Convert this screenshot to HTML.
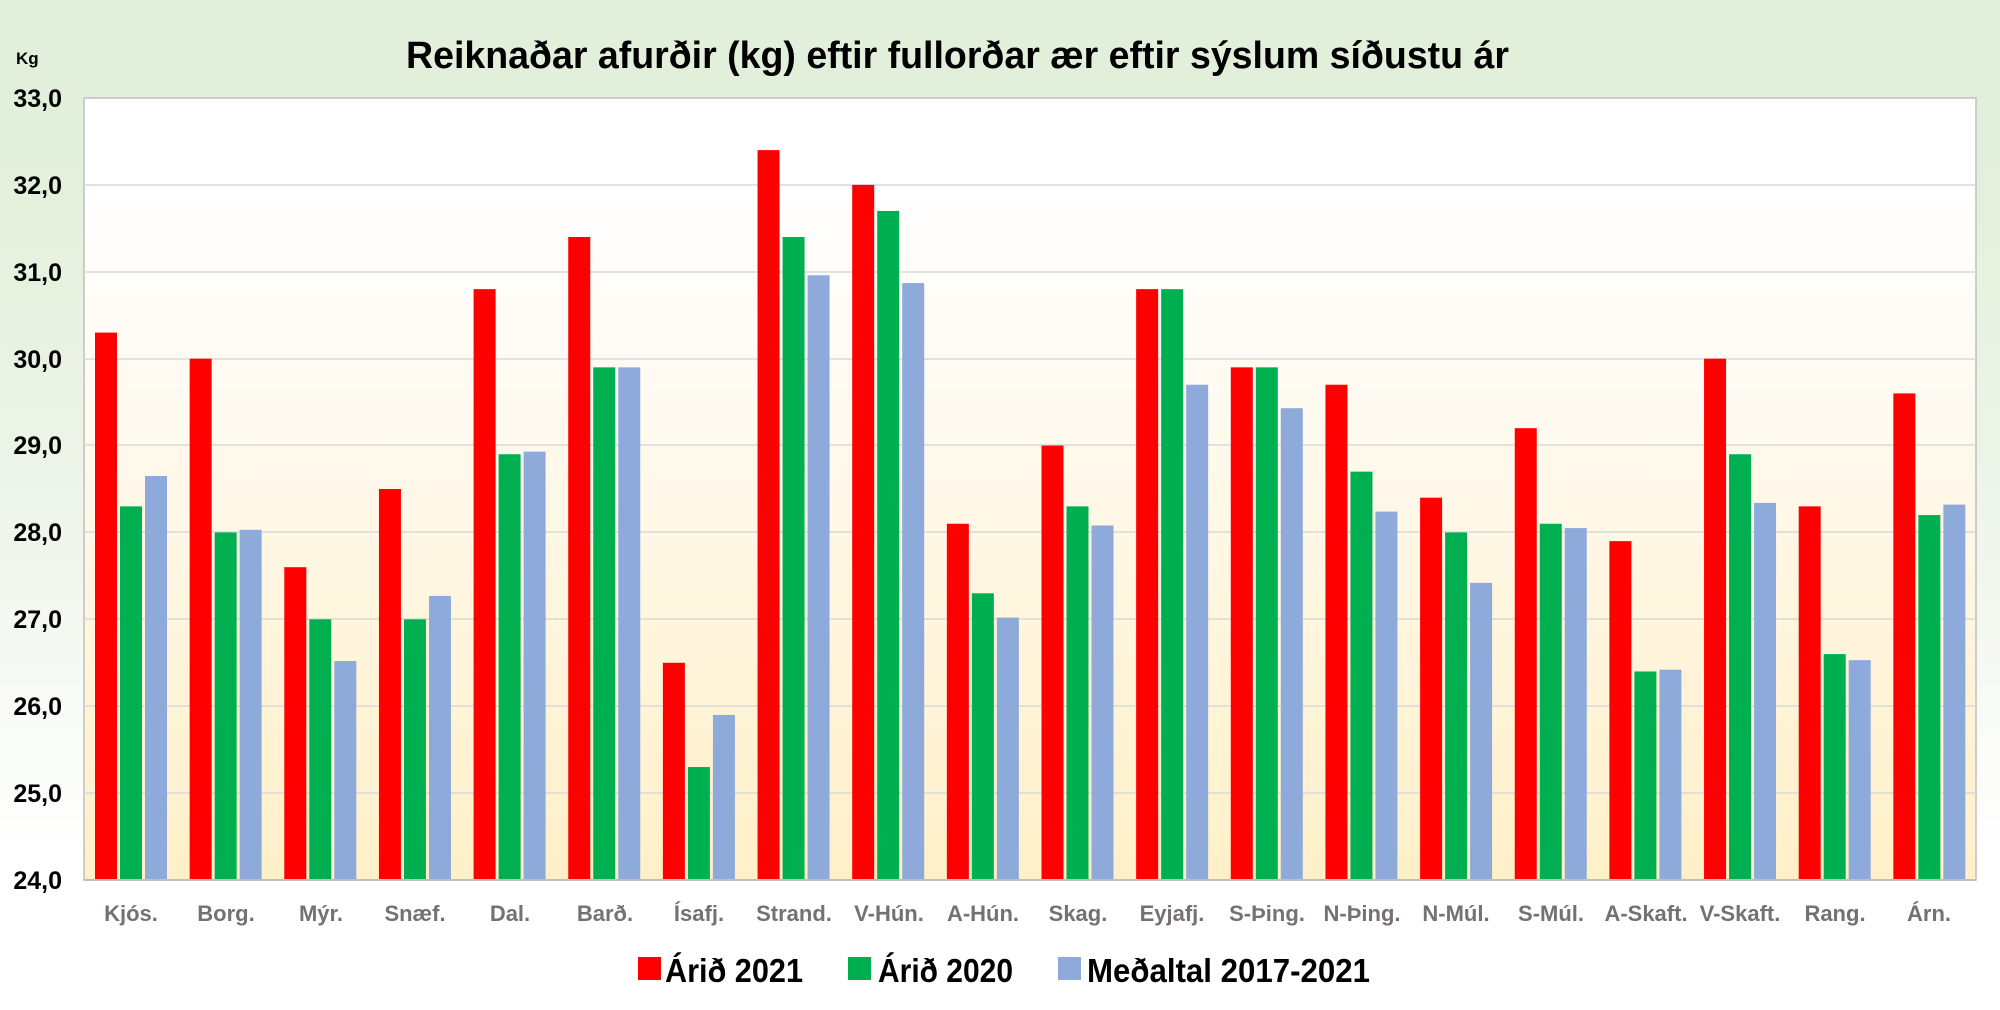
<!DOCTYPE html>
<html><head><meta charset="utf-8"><style>
html,body{margin:0;padding:0;background:#ffffff;}
svg{display:block;}
text{font-family:"Liberation Sans",sans-serif;font-weight:bold;}
</style></head><body>
<svg width="2000" height="1010" viewBox="0 0 2000 1010" xmlns="http://www.w3.org/2000/svg">
<defs>
<linearGradient id="bg" x1="0" y1="0" x2="0" y2="1">
<stop offset="0" stop-color="#ffffff"/>
<stop offset="0.11" stop-color="#ffffff"/>
<stop offset="0.4" stop-color="#fffaf0"/>
<stop offset="1" stop-color="#fff0c8"/>
</linearGradient>
<linearGradient id="outer" x1="0" y1="0" x2="0" y2="1">
<stop offset="0" stop-color="#e2efda"/>
<stop offset="0.15" stop-color="#e2efda"/>
<stop offset="0.5" stop-color="#eef5ea"/>
<stop offset="0.85" stop-color="#ffffff"/>
<stop offset="1" stop-color="#ffffff"/>
</linearGradient>
</defs>
<rect x="0" y="0" width="2000" height="1010" fill="url(#outer)"/>
<rect x="84" y="98" width="1892" height="782" fill="url(#bg)" stroke="#bfbfbf" stroke-width="1.5"/>
<g stroke="#d9d9d9" stroke-width="1.5">
<line x1="84" x2="1976" y1="185" y2="185"/>
<line x1="84" x2="1976" y1="272" y2="272"/>
<line x1="84" x2="1976" y1="359" y2="359"/>
<line x1="84" x2="1976" y1="445" y2="445"/>
<line x1="84" x2="1976" y1="532" y2="532"/>
<line x1="84" x2="1976" y1="619" y2="619"/>
<line x1="84" x2="1976" y1="706" y2="706"/>
<line x1="84" x2="1976" y1="793" y2="793"/>
</g>
<text x="406" y="68" font-size="38" fill="#000" textLength="1103" lengthAdjust="spacingAndGlyphs">Reiknaðar afurðir (kg) eftir fullorðar ær eftir sýslum síðustu ár</text>
<text x="16" y="64" font-size="17" fill="#000">Kg</text>
<g font-size="25" fill="#000" text-anchor="end">
<text x="62" y="107">33,0</text>
<text x="62" y="194">32,0</text>
<text x="62" y="281">31,0</text>
<text x="62" y="368">30,0</text>
<text x="62" y="454">29,0</text>
<text x="62" y="541">28,0</text>
<text x="62" y="628">27,0</text>
<text x="62" y="715">26,0</text>
<text x="62" y="802">25,0</text>
<text x="62" y="889">24,0</text>
</g>
<g transform="matrix(1,0,0,-86.89,0,2965.36)">
<g fill="#ff0000">
<rect x="95" y="24" width="22" height="6.3"/>
<rect x="189.65" y="24" width="22" height="6.0"/>
<rect x="284.3" y="24" width="22" height="3.6"/>
<rect x="378.95" y="24" width="22" height="4.5"/>
<rect x="473.6" y="24" width="22" height="6.8"/>
<rect x="568.25" y="24" width="22" height="7.4"/>
<rect x="662.9" y="24" width="22" height="2.5"/>
<rect x="757.55" y="24" width="22" height="8.4"/>
<rect x="852.2" y="24" width="22" height="8.0"/>
<rect x="946.85" y="24" width="22" height="4.1"/>
<rect x="1041.5" y="24" width="22" height="5.0"/>
<rect x="1136.15" y="24" width="22" height="6.8"/>
<rect x="1230.8" y="24" width="22" height="5.9"/>
<rect x="1325.45" y="24" width="22" height="5.7"/>
<rect x="1420.1" y="24" width="22" height="4.4"/>
<rect x="1514.75" y="24" width="22" height="5.2"/>
<rect x="1609.4" y="24" width="22" height="3.9"/>
<rect x="1704.05" y="24" width="22" height="6.0"/>
<rect x="1798.7" y="24" width="22" height="4.3"/>
<rect x="1893.35" y="24" width="22" height="5.6"/>
</g>
<g fill="#00b050">
<rect x="120" y="24" width="22" height="4.3"/>
<rect x="214.65" y="24" width="22" height="4.0"/>
<rect x="309.3" y="24" width="22" height="3.0"/>
<rect x="403.95" y="24" width="22" height="3.0"/>
<rect x="498.6" y="24" width="22" height="4.9"/>
<rect x="593.25" y="24" width="22" height="5.9"/>
<rect x="687.9" y="24" width="22" height="1.3"/>
<rect x="782.55" y="24" width="22" height="7.4"/>
<rect x="877.2" y="24" width="22" height="7.7"/>
<rect x="971.85" y="24" width="22" height="3.3"/>
<rect x="1066.5" y="24" width="22" height="4.3"/>
<rect x="1161.15" y="24" width="22" height="6.8"/>
<rect x="1255.8" y="24" width="22" height="5.9"/>
<rect x="1350.45" y="24" width="22" height="4.7"/>
<rect x="1445.1" y="24" width="22" height="4.0"/>
<rect x="1539.75" y="24" width="22" height="4.1"/>
<rect x="1634.4" y="24" width="22" height="2.4"/>
<rect x="1729.05" y="24" width="22" height="4.9"/>
<rect x="1823.7" y="24" width="22" height="2.6"/>
<rect x="1918.35" y="24" width="22" height="4.2"/>
</g>
<g fill="#8eaadb">
<rect x="145" y="24" width="22" height="4.65"/>
<rect x="239.65" y="24" width="22" height="4.03"/>
<rect x="334.3" y="24" width="22" height="2.52"/>
<rect x="428.95" y="24" width="22" height="3.27"/>
<rect x="523.6" y="24" width="22" height="4.93"/>
<rect x="618.25" y="24" width="22" height="5.9"/>
<rect x="712.9" y="24" width="22" height="1.9"/>
<rect x="807.55" y="24" width="22" height="6.96"/>
<rect x="902.2" y="24" width="22" height="6.87"/>
<rect x="996.85" y="24" width="22" height="3.02"/>
<rect x="1091.5" y="24" width="22" height="4.08"/>
<rect x="1186.15" y="24" width="22" height="5.7"/>
<rect x="1280.8" y="24" width="22" height="5.43"/>
<rect x="1375.45" y="24" width="22" height="4.24"/>
<rect x="1470.1" y="24" width="22" height="3.42"/>
<rect x="1564.75" y="24" width="22" height="4.05"/>
<rect x="1659.4" y="24" width="22" height="2.42"/>
<rect x="1754.05" y="24" width="22" height="4.34"/>
<rect x="1848.7" y="24" width="22" height="2.53"/>
<rect x="1943.35" y="24" width="22" height="4.32"/>
</g>
</g>
<line x1="84" x2="1976" y1="880" y2="880" stroke="#bfbfbf" stroke-width="2"/>
<g font-size="22" fill="#767171" text-anchor="middle">
<text x="131" y="921">Kjós.</text>
<text x="226" y="921">Borg.</text>
<text x="321" y="921">Mýr.</text>
<text x="415" y="921">Snæf.</text>
<text x="510" y="921">Dal.</text>
<text x="605" y="921">Barð.</text>
<text x="699" y="921">Ísafj.</text>
<text x="794" y="921">Strand.</text>
<text x="889" y="921">V-Hún.</text>
<text x="983" y="921">A-Hún.</text>
<text x="1078" y="921">Skag.</text>
<text x="1172" y="921">Eyjafj.</text>
<text x="1267" y="921">S-Þing.</text>
<text x="1362" y="921">N-Þing.</text>
<text x="1456" y="921">N-Múl.</text>
<text x="1551" y="921">S-Múl.</text>
<text x="1646" y="921">A-Skaft.</text>
<text x="1740" y="921">V-Skaft.</text>
<text x="1835" y="921">Rang.</text>
<text x="1929" y="921">Árn.</text>
</g>
<rect x="638" y="957" width="23" height="23" fill="#ff0000"/>
<text x="665" y="982" font-size="33" fill="#000" textLength="138" lengthAdjust="spacingAndGlyphs">Árið 2021</text>
<rect x="848" y="957" width="23" height="23" fill="#00b050"/>
<text x="878" y="982" font-size="33" fill="#000" textLength="135" lengthAdjust="spacingAndGlyphs">Árið 2020</text>
<rect x="1058" y="957" width="23" height="23" fill="#8eaadb"/>
<text x="1087" y="982" font-size="33" fill="#000" textLength="283" lengthAdjust="spacingAndGlyphs">Meðaltal 2017-2021</text>
</svg>
</body></html>
